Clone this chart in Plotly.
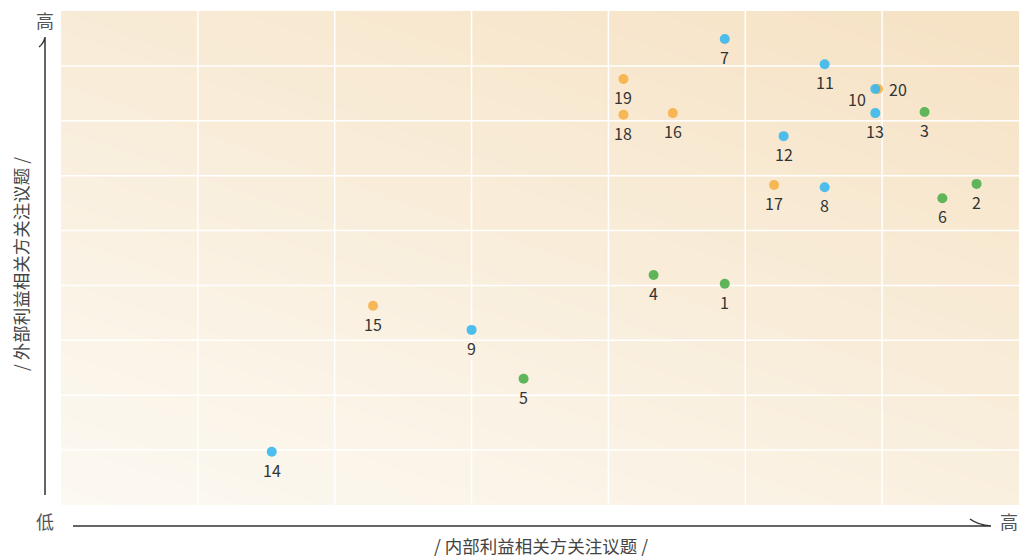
import plotly.graph_objects as go
import numpy as np

# ---- data ----
ids_green = ["1", "2", "3", "4", "5", "6"]
x_green = [4.85, 6.69, 6.31, 4.33, 3.38, 6.44]
y_green = [4.03, 5.85, 7.16, 4.19, 2.30, 5.59]

ids_blue = ["7", "8", "9", "10", "11", "12", "13", "14"]
x_blue = [4.85, 5.58, 3.00, 5.95, 5.58, 5.28, 5.95, 1.54]
y_blue = [8.49, 5.79, 3.19, 7.58, 8.03, 6.72, 7.14, 0.97]

ids_orange = ["15", "16", "17", "18", "19", "20"]
x_orange = [2.28, 4.47, 5.21, 4.11, 4.11, 5.97]
y_orange = [3.63, 7.14, 5.83, 7.11, 7.76, 7.58]

x_title = "/ 内部利益相关方关注议题 /"
y_title = "/ 外部利益相关方关注议题 /"
low_label = "低"
high_label = "高"

XMAX, YMAX = 7, 9
FONT = "Noto Sans CJK SC"
C_GREEN = "#52B04F"
C_BLUE = "#3DB9EE"
C_ORANGE = "#F7B24A"

fig = go.Figure()

# gradient background (styling only)
gx = np.arange(-1, XMAX + 2)
gy = np.arange(-1, YMAX + 2)
gz = [[0.4 * (xx / XMAX) + 0.6 * (yy / YMAX) for xx in gx] for yy in gy]
fig.add_trace(go.Heatmap(
    x=gx, y=gy, z=gz, zsmooth="best", showscale=False, hoverinfo="skip",
    colorscale=[[0, "#FCF9F2"], [1, "#F6E2C4"]], zmin=0, zmax=1,
))

# grid lines above background
for gxv in range(1, XMAX):
    fig.add_trace(go.Scatter(x=[gxv, gxv], y=[0, YMAX], mode="lines",
                             line=dict(color="white", width=1.5),
                             hoverinfo="skip", showlegend=False))
for gyv in range(1, YMAX):
    fig.add_trace(go.Scatter(x=[0, XMAX], y=[gyv, gyv], mode="lines",
                             line=dict(color="white", width=1.5),
                             hoverinfo="skip", showlegend=False))

for xs, ys, ids, col in [(x_orange, y_orange, ids_orange, C_ORANGE),
                         (x_green, y_green, ids_green, C_GREEN),
                         (x_blue, y_blue, ids_blue, C_BLUE)]:
    fig.add_trace(go.Scatter(x=xs, y=ys, mode="markers", text=ids,
                             marker=dict(color=col, size=10, opacity=0.92),
                             hovertemplate="%{text}<extra></extra>",
                             showlegend=False))
    for xv, yv, t in zip(xs, ys, ids):
        xs_, ys_, anchor = 0, -18, "center"
        if t == "10":
            xs_, ys_, anchor = -7, -10, "right"
        elif t == "20":
            xs_, ys_, anchor = 9, 0, "left"
        fig.add_annotation(x=xv, y=yv, text=t, showarrow=False,
                           xshift=xs_, yshift=ys_, xanchor=anchor,
                           font=dict(family=FONT, size=16, color="#333333"))

W, H = 1020, 558
L, R, T, B = 61, 1, 11, 53
pw, ph = W - L - R, H - T - B


def px(xp):
    return (xp - L) / pw


def py(yp):
    return (H - B - yp) / ph


fig.add_shape(type="path", xref="paper", yref="paper",
              path=f"M {px(45)} {py(495)} L {px(45)} {py(37)} Q {px(44)} {py(43)} {px(39)} {py(47)}",
              line=dict(color="#333333", width=1.5))
fig.add_shape(type="path", xref="paper", yref="paper",
              path=f"M {px(73)} {py(526)} L {px(991)} {py(526)} Q {px(978)} {py(525)} {px(970)} {py(519)}",
              line=dict(color="#333333", width=1.5))


def label(xr, yr, text, size, color, angle=0):
    fig.add_annotation(xref="paper", yref="paper", x=px(xr), y=py(yr), text=text,
                       xanchor="center", yanchor="middle", textangle=angle,
                       showarrow=False, font=dict(family=FONT, size=size, color=color))


label(45, 20, high_label, 18, "#555555")
label(45, 521, low_label, 18, "#555555")
label(1009, 521, high_label, 18, "#555555")
label(541, 545, x_title, 17.5, "#444444")
label(20, 264, y_title, 17.5, "#444444", angle=-90)

fig.update_xaxes(range=[0, XMAX], showgrid=False, zeroline=False,
                 showticklabels=False, ticks="", fixedrange=True)
fig.update_yaxes(range=[0, YMAX], showgrid=False, zeroline=False,
                 showticklabels=False, ticks="", fixedrange=True)
fig.update_layout(width=W, height=H, margin=dict(l=L, r=R, t=T, b=B),
                  paper_bgcolor="white", plot_bgcolor="white",
                  font=dict(family=FONT), showlegend=False)

fig.write_html("out.html", config={"displayModeBar": False},
               post_script="document.body.style.margin='0';document.body.style.overflow='hidden';")
